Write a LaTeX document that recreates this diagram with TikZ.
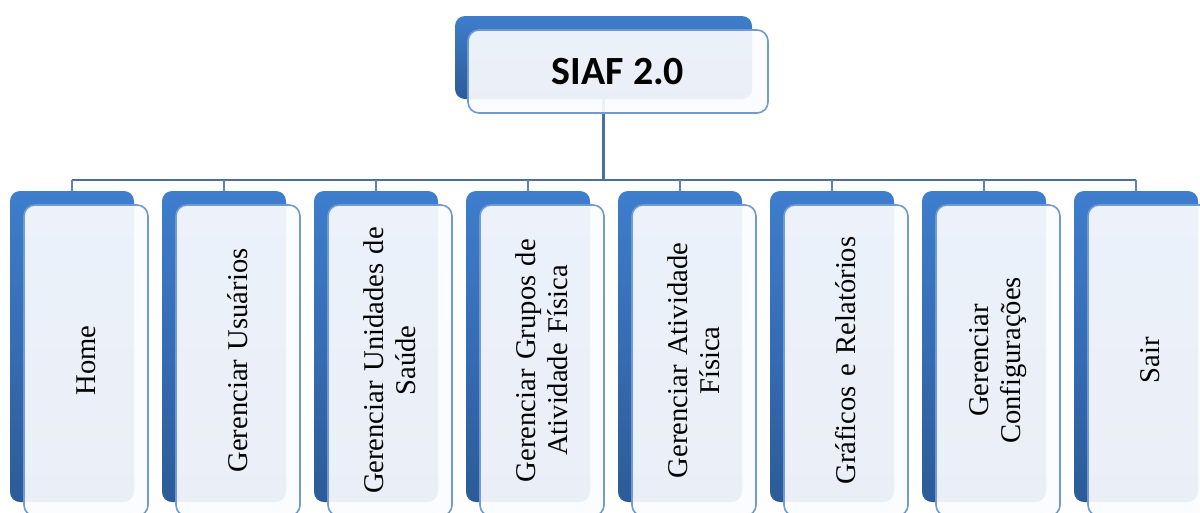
\documentclass[tikz,border=0pt]{standalone}
\usepackage{fontspec}
\setmainfont{Liberation Serif}
\newfontfamily\carl{Carlito}
\definecolor{backtop}{HTML}{3E7ECD}
\definecolor{backbot}{HTML}{2D5B98}
\definecolor{frontline}{HTML}{6F9AD2}
\definecolor{frontfill}{HTML}{FBFCFF}
\definecolor{busline}{HTML}{4A6FA3}
\definecolor{dropline}{HTML}{5E80B2}
\tikzset{
  backbox/.style={rectangle, rounded corners=10pt, top color=backtop, bottom color=backbot, draw=none, inner sep=0pt},
  childback/.style={backbox, minimum width=124pt, minimum height=311pt},
  frontbox/.style={rectangle, rounded corners=11pt, draw=frontline, line width=1.6pt, fill=frontfill, fill opacity=0.92, draw opacity=1, text opacity=1, inner sep=0pt},
  childfront/.style={frontbox, rotate=90, minimum width=311pt, minimum height=124pt, text width=280pt, align=center,
     font=\fontsize{28.6}{32}\selectfont},
  topfront/.style={frontbox, minimum width=300pt, minimum height=83pt, font=\carl\bfseries\fontsize{40}{44}\selectfont},
  topback/.style={backbox, minimum width=297pt, minimum height=83pt},
  busstyle/.style={draw=busline, line width=2.4pt},
  stemstyle/.style={draw=busline, line width=3.6pt},
  dropstyle/.style={draw=dropline, line width=1.6pt}
}
\begin{document}
\begin{tikzpicture}[x=1pt,y=-1pt]
\clip (0,0) rectangle (1200,512);
\fill[white] (0,0) rectangle (1200,512);
\coordinate (busc) at (600,180);
% top box
\node[topback] (topb) at (603.5,57.5) {};
\draw[stemstyle] (topb.south) -- (topb.south |- busc);
\node[topfront] (top) at (618,71.5) {SIAF 2.0};
% children back boxes
\foreach \i in {1,...,8} {
  \node[childback] (b\i) at ({72+152*(\i-1)},346.5) {};
}
\draw[busstyle] (b1.north |- busc) -- (b8.north |- busc);
\foreach \i in {1,...,8} {
  \draw[dropstyle] (b\i.north) -- (b\i.north |- busc);
}
% front boxes
\node[childfront] (f1) at (86,360.5) {Home};
\node[childfront] (f2) at (238,360.5) {Gerenciar Usuários};
\node[childfront] (f3) at (390,360.5) {Gerenciar Unidades de\\Saúde};
\node[childfront] (f4) at (542,360.5) {Gerenciar Grupos de\\Atividade Física};
\node[childfront] (f5) at (694,360.5) {Gerenciar Atividade\\Física};
\node[childfront] (f6) at (846,360.5) {Gráficos e Relatórios};
\node[childfront] (f7) at (998,360.5) {Gerenciar\\Configurações};
\node[childfront] (f8) at (1150,360.5) {Sair};
\end{tikzpicture}
\end{document}
